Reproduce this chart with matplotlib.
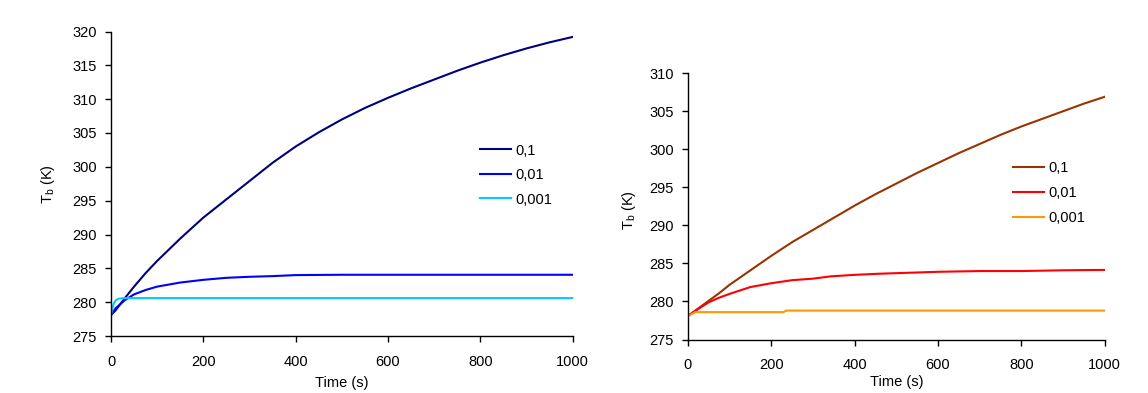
import matplotlib
matplotlib.use("Agg")
import matplotlib.pyplot as plt

plt.rcParams["font.family"] = ["Liberation Sans", "DejaVu Sans"]
plt.rcParams["mathtext.fontset"] = "custom"
plt.rcParams["mathtext.rm"] = "Liberation Sans"

# left panel: bulk temperature for three parameter values (blue family)
t_a1 = [0, 10, 20, 30, 50, 75, 100, 150, 200, 250, 300, 350, 400, 450, 500,
        550, 600, 650, 700, 750, 800, 850, 900, 950, 1000]
T_a1 = [278.1, 278.8, 279.7, 280.6, 282.3, 284.3, 286.1, 289.4, 292.5, 295.2,
        297.9, 300.6, 303.0, 305.1, 307.0, 308.7, 310.2, 311.6, 312.9, 314.2,
        315.4, 316.5, 317.5, 318.4, 319.2]

t_a2 = [0, 10, 20, 30, 50, 75, 100, 150, 200, 250, 300, 350, 400, 500, 600,
        700, 800, 900, 1000]
T_a2 = [278.1, 279.1, 279.7, 280.3, 281.15, 281.8, 282.3, 282.9, 283.3, 283.6,
        283.75, 283.85, 284.0, 284.05, 284.05, 284.05, 284.05, 284.05, 284.05]

t_a3 = [0, 3, 6.5, 11, 16, 27, 40, 200, 400, 600, 800, 1000]
T_a3 = [278.1, 279.1, 279.9, 280.3, 280.5, 280.6, 280.6, 280.6, 280.6, 280.6,
        280.6, 280.6]

# right panel: same three values (red family)
t_b1 = [0, 30, 50, 75, 100, 150, 200, 250, 300, 350, 400, 450, 500, 550,
        600, 650, 700, 750, 800, 850, 900, 950, 1000]
T_b1 = [278.1, 279.3, 280.1, 281.1, 282.2, 284.1, 286.0, 287.8, 289.4, 291.0,
        292.6, 294.1, 295.5, 296.9, 298.2, 299.5, 300.7, 301.9, 303.0, 304.0,
        305.0, 306.0, 306.9]

t_b2 = [0, 30, 50, 75, 100, 150, 200, 250, 300, 342, 400, 460, 600, 700,
        800, 900, 1000]
T_b2 = [278.1, 279.2, 279.9, 280.5, 281.0, 281.9, 282.4, 282.8, 283.0, 283.3,
        283.5, 283.65, 283.9, 284.0, 284.0, 284.1, 284.15]

t_b3 = [0, 18, 230, 235, 1000]
T_b3 = [278.1, 278.6, 278.6, 278.8, 278.8]

labels = ["0,1", "0,01", "0,001"]
colors_a = ["#000080", "#0000ff", "#00ccff"]
colors_b = ["#993300", "#ff0000", "#ff9900"]


def style(ax, ylim, yticks):
    ax.set_xlim(0, 1000)
    ax.set_ylim(*ylim)
    ax.set_xticks(range(0, 1001, 200))
    ax.set_yticks(yticks)
    for s in ["top", "right"]:
        ax.spines[s].set_visible(False)
    for s in ["left", "bottom"]:
        ax.spines[s].set_linewidth(1.0)
    ax.tick_params(axis="both", direction="out", length=4, width=1,
                   labelsize=10.5)
    ax.tick_params(axis="y", pad=6)
    ax.tick_params(axis="x", pad=9.5)
    ax.set_xlabel("Time (s)", fontsize=10.5)
    ax.set_ylabel(r"T$_{\mathrm{b}}$ (K)", fontsize=10.5)


def legend(ax, x, y, spacing):
    ax.legend(loc="center left", bbox_to_anchor=(x / 1148, 1 - y / 393),
              bbox_transform=ax.figure.transFigure, frameon=False,
              fontsize=10.5, handlelength=2.1, handletextpad=0.3,
              labelspacing=spacing, borderpad=0, borderaxespad=0)


fig = plt.figure(figsize=(11.48, 3.93), dpi=100)

ax1 = fig.add_axes([111 / 1148, 1 - 336 / 393, 461.7 / 1148, 304.5 / 393])
for t, T, c, l in zip([t_a1, t_a2, t_a3], [T_a1, T_a2, T_a3], colors_a, labels):
    ax1.plot(t, T, color=c, lw=1.5, label=l)
style(ax1, (275, 320), range(275, 321, 5))
ax1.xaxis.set_label_coords(0.5, -0.13)
ax1.yaxis.set_label_coords(-0.116, 0.5)
legend(ax1, 480, 175, 0.72)

ax2 = fig.add_axes([688 / 1148, 1 - 339.5 / 393, 416.5 / 1148, 266.2 / 393])
for t, T, c, l in zip([t_b1, t_b2, t_b3], [T_b1, T_b2, T_b3], colors_b, labels):
    ax2.plot(t, T, color=c, lw=1.5, label=l)
style(ax2, (275, 310), range(275, 311, 5))
ax2.xaxis.set_label_coords(0.5, -0.135)
ax2.yaxis.set_label_coords(-0.119, 0.485)
legend(ax2, 1013, 193, 0.75)

fig.savefig("out.png", dpi=100)
